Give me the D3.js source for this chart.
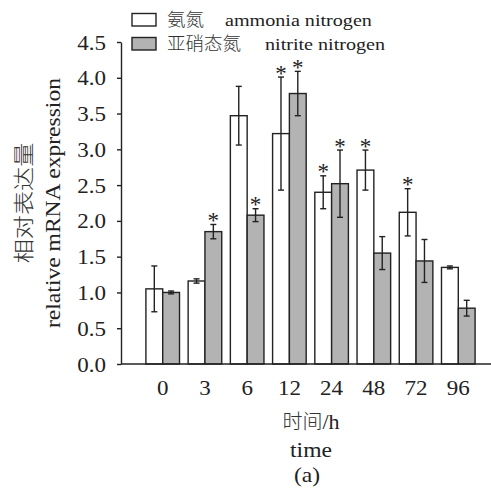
<!DOCTYPE html>
<html>
<head>
<meta charset="utf-8">
<script src="https://cdn.jsdelivr.net/npm/d3@7"></script>
<style>
    body { margin: 0; background: #fff; }
    .latin { font-family: "Liberation Serif", "Times New Roman", Times, serif; fill: #222; }
    .cjk { font-family: "Noto Sans CJK SC", sans-serif; font-weight: 300; fill: #333; }
</style>
</head>
<body>
<script>
(function () {

    //time points (h)
    var categories = ["0", "3", "6", "12", "24", "48", "72", "96"];
    //relative expression, ammonia nitrogen group
    var ammonia = [1.05, 1.16, 3.47, 3.22, 2.40, 2.71, 2.12, 1.35];
    var ammoniaErr = [0.32, 0.03, 0.41, 0.79, 0.23, 0.28, 0.33, 0.02];
    var ammoniaSig = [0, 0, 0, 1, 1, 1, 1, 0];
    //relative expression, nitrite nitrogen group
    var nitrite = [1.00, 1.85, 2.08, 3.78, 2.52, 1.55, 1.44, 0.78];
    var nitriteErr = [0.02, 0.10, 0.09, 0.31, 0.47, 0.23, 0.30, 0.11];
    var nitriteSig = [0, 1, 1, 1, 1, 0, 0, 0];
    var yTicks = [0, 0.5, 1, 1.5, 2, 2.5, 3, 3.5, 4, 4.5];

    var series = [
        { key: "ammonia", cn: "氨氮", en: "ammonia nitrogen", fill: "#ffffff", vals: ammonia, err: ammoniaErr, sig: ammoniaSig },
        { key: "nitrite", cn: "亚硝态氮", en: "nitrite nitrogen", fill: "#b3b3b3", vals: nitrite, err: nitriteErr, sig: nitriteSig }
    ];

    var width = 491,
        height = 490,
        sx = 1.15; //latin glyphs in the figure are a bit wide

    var svg = d3.select("body")
        .append("svg")
        .attr("width", width)
        .attr("height", height);

    //scales
    var x = d3.scaleBand()
        .domain(categories)
        .range([141.6, 479.4]);

    var xSub = d3.scaleBand()
        .domain(series.map(function (s) { return s.key; }))
        .range([-16.8, 16.8]);

    var y = d3.scaleLinear()
        .domain([0, 4.5])
        .range([364, 42]);

    //flatten into one record per bar
    var bars = [];
    series.forEach(function (s) {
        categories.forEach(function (c, i) {
            bars.push({ s: s, cat: c, v: s.vals[i], e: s.err[i], sig: s.sig[i] });
        });
    });

    //bars
    svg.selectAll(".bar")
        .data(bars)
        .enter()
        .append("rect")
        .attr("class", "bar")
        .attr("x", function (d) { return x(d.cat) + x.bandwidth() / 2 + xSub(d.s.key); })
        .attr("width", xSub.bandwidth())
        .attr("y", function (d) { return y(d.v); })
        .attr("height", function (d) { return y(0) - y(d.v); })
        .style("fill", function (d) { return d.s.fill; })
        .style("stroke", "#222")
        .style("stroke-width", 1.4);

    //error bars
    var errG = svg.selectAll(".err")
        .data(bars)
        .enter()
        .append("g")
        .attr("class", "err")
        .attr("transform", function (d) {
            return "translate(" + (x(d.cat) + x.bandwidth() / 2 + xSub(d.s.key) + xSub.bandwidth() / 2) + ",0)";
        })
        .style("stroke", "#222")
        .style("stroke-width", 1.4);

    errG.append("line")
        .attr("y1", function (d) { return y(d.v + d.e); })
        .attr("y2", function (d) { return y(d.v - d.e); });
    errG.append("line")
        .attr("x1", -3).attr("x2", 3)
        .attr("y1", function (d) { return y(d.v + d.e); })
        .attr("y2", function (d) { return y(d.v + d.e); });
    errG.append("line")
        .attr("x1", -3).attr("x2", 3)
        .attr("y1", function (d) { return y(d.v - d.e); })
        .attr("y2", function (d) { return y(d.v - d.e); });

    //significance stars
    errG.filter(function (d) { return d.sig; })
        .append("text")
        .attr("class", "latin")
        .attr("text-anchor", "middle")
        .attr("y", function (d) { return y(d.v + d.e) + 3.5; })
        .style("stroke", "none")
        .style("font-size", "23px")
        .text("*");

    //y axis
    var yAxis = svg.append("g")
        .attr("transform", "translate(121,0)")
        .call(d3.axisLeft(y).tickValues(yTicks).tickSize(4).tickSizeOuter(0).tickFormat(d3.format(".1f")));
    yAxis.selectAll("path, line").style("stroke", "#222").style("stroke-width", 1.4);
    yAxis.selectAll("text")
        .attr("class", "latin")
        .attr("x", -15 / sx)
        .attr("dy", "0.35em")
        .attr("transform", "scale(" + sx + ",1)")
        .style("font-size", "20px");

    //x axis, a plain line with labels
    svg.append("line")
        .attr("x1", 121).attr("x2", width)
        .attr("y1", y(0)).attr("y2", y(0))
        .style("stroke", "#222")
        .style("stroke-width", 1.4);

    svg.selectAll(".xlab")
        .data(categories)
        .enter()
        .append("text")
        .attr("class", "latin xlab")
        .attr("text-anchor", "middle")
        .attr("transform", function (d) {
            return "translate(" + (x(d) + x.bandwidth() / 2) + ",395) scale(" + sx + ",1)";
        })
        .style("font-size", "20px")
        .text(function (d) { return d; });

    //helper for wide text placed at a point
    function label(tx, ty, rot, cls, size, txt, anchor) {
        return svg.append("text")
            .attr("class", cls)
            .attr("text-anchor", anchor || "middle")
            .attr("transform", "translate(" + tx + "," + ty + ") rotate(" + rot + ") scale(" + sx + ",1)")
            .style("font-size", size + "px")
            .text(txt);
    }

    //axis titles
    var xt = svg.append("text")
        .attr("x", 311).attr("y", 429)
        .attr("text-anchor", "middle");
    xt.append("tspan").attr("class", "cjk").style("font-size", "20px").text("时间");
    xt.append("tspan").attr("class", "latin").style("font-size", "22px").text("/h");
    label(311, 457, 0, "latin", 20.5, "time");
    label(307, 482, 0, "latin", 20.5, "(a)");

    label(31, 203, -90, "cjk", 21, "相对表达量");
    label(60, 203, -90, "latin", 20.5, "relative mRNA expression");

    //legend
    var legend = svg.selectAll(".legend")
        .data(series)
        .enter()
        .append("g")
        .attr("class", "legend")
        .attr("transform", function (d, i) { return "translate(132," + (13.5 + i * 24) + ")"; });

    legend.append("rect")
        .attr("width", 24)
        .attr("height", 12.5)
        .style("fill", function (d) { return d.fill; })
        .style("stroke", "#222")
        .style("stroke-width", 1.4);

    legend.append("text")
        .attr("class", "cjk")
        .attr("x", 35)
        .attr("y", 12)
        .style("font-size", "18.5px")
        .text(function (d) { return d.cn; });

    legend.append("text")
        .attr("class", "latin")
        .attr("transform", function (d, i) { return "translate(" + (i ? 133 : 93) + ",12.5) scale(" + sx + ",1)"; })
        .style("font-size", "17.5px")
        .text(function (d) { return d.en; });
})();
</script>
</body>
</html>
